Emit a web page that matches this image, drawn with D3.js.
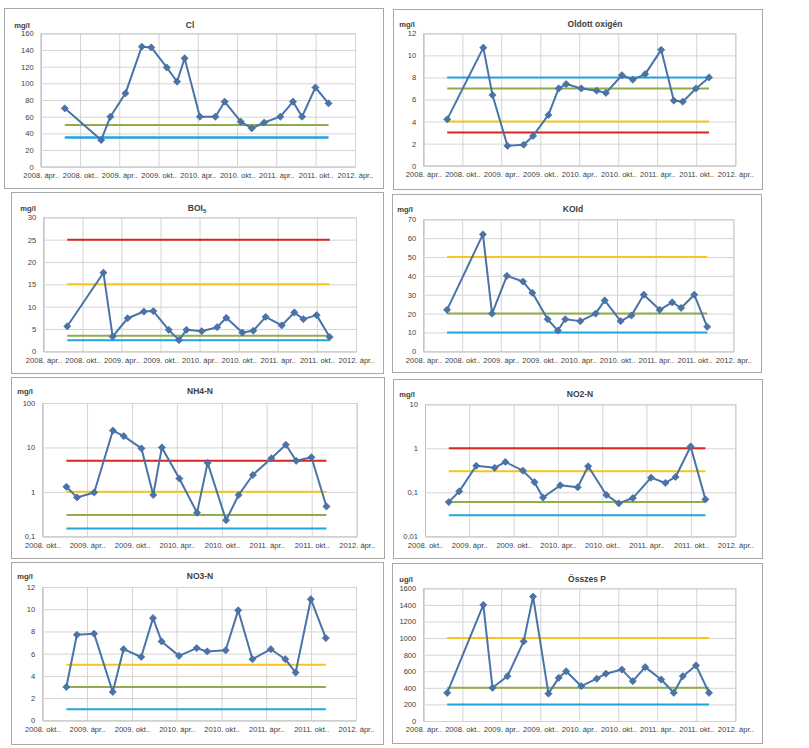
<!DOCTYPE html>
<html>
<head>
<meta charset="utf-8">
<script src="https://cdn.jsdelivr.net/npm/d3@7"></script>
<style>
  html, body { margin: 0; padding: 0; background: #fff; }
  svg text { font-family: "Liberation Sans", Arial, sans-serif; fill: #404040; }
</style>
</head>
<body>
<svg id="chart" width="809" height="748"></svg>
<script>
// ---------------- DATA ----------------
// sampling dates (common to all parameters)
const sampleDates = [
  "2008-07-22", "2009-01-07", "2009-02-19", "2009-04-30", "2009-07-15",
  "2009-08-28", "2009-11-08", "2009-12-26", "2010-01-30", "2010-04-11",
  "2010-06-22", "2010-08-04", "2010-10-18", "2010-12-08", "2011-02-04",
  "2011-04-20", "2011-06-18", "2011-07-30", "2011-09-30", "2011-11-30"
];

const clValues   = [70, 32, 60, 88, 144, 143, 119, 102, 130, 60, 60, 78, 54, 46, 53, 60, 78, 60, 95, 76];
const oxValues   = [4.2, 10.7, 6.4, 1.8, 1.9, 2.7, 4.6, 7.0, 7.4, 7.0, 6.8, 6.6, 8.2, 7.8, 8.3, 10.5, 5.9, 5.8, 7.0, 8.0];
const boiValues  = [5.6, 17.6, 3.3, 7.4, 8.9, 9.0, 4.8, 2.5, 4.8, 4.5, 5.4, 7.5, 4.2, 4.6, 7.7, 5.8, 8.7, 7.2, 8.1, 3.2];
const koidValues = [22, 62, 20, 40, 37, 31, 17, 11, 17, 16, 20, 27, 16, 19, 30, 22, 26, 23, 30, 13];
const nh4Values  = [null, 1.3, 0.75, 0.97, 24, 18, 9.5, 0.85, 10, 2.0, 0.34, 4.5, 0.23, 0.85, 2.4, 5.7, 11.5, 5.0, 6.0, 0.47];
const no2Values  = [null, 0.06, 0.105, 0.4, 0.36, 0.49, 0.31, 0.17, 0.076, 0.144, 0.13, 0.39, 0.087, 0.056, 0.074, 0.215, 0.163, 0.223, 1.1, 0.069];
const no3Values  = [null, 3.0, 7.7, 7.8, 2.55, 6.4, 5.7, 9.2, 7.1, 5.8, 6.5, 6.2, 6.3, 9.9, 5.5, 6.4, 5.5, 4.3, 10.9, 7.4];
const pValues    = [340, 1400, 400, 540, 960, 1500, 330, 520, 600, 420, 510, 570, 620, 480, 650, 500, 340, 540, 670, 340];

// class boundary limits (name of boundary -> value)
const clLimits   = { "II/III": 50, "I/II": 35 };
const oxLimits   = { "I/II": 8, "II/III": 7, "III/IV": 4, "IV/V": 3 };
const boiLimits  = { "IV/V": 25, "III/IV": 15, "II/III": 3.5, "I/II": 2.5 };
const koidLimits = { "III/IV": 50, "II/III": 20, "I/II": 10 };
const nh4Limits  = { "IV/V": 5, "III/IV": 1, "II/III": 0.3, "I/II": 0.15 };
const no2Limits  = { "IV/V": 1, "III/IV": 0.3, "II/III": 0.06, "I/II": 0.03 };
const no3Limits  = { "III/IV": 5, "II/III": 3, "I/II": 1 };
const pLimits    = { "III/IV": 1000, "II/III": 400, "I/II": 200 };

// axis ticks
const xTicksApr = ["2008-04-01","2008-10-01","2009-04-01","2009-10-01","2010-04-01","2010-10-01","2011-04-01","2011-10-01","2012-04-01"];
const xTicksOkt = ["2008-10-01","2009-04-01","2009-10-01","2010-04-01","2010-10-01","2011-04-01","2011-10-01","2012-04-01"];
const monthNames = { 4: "ápr..", 10: "okt.." };

const clTicks   = [0, 20, 40, 60, 80, 100, 120, 140, 160];
const oxTicks   = [0, 2, 4, 6, 8, 10, 12];
const boiTicks  = [0, 5, 10, 15, 20, 25, 30];
const koidTicks = [0, 10, 20, 30, 40, 50, 60, 70];
const nh4Ticks  = [0.1, 1, 10, 100];
const no2Ticks  = [0.01, 0.1, 1, 10];
const no3Ticks  = [0, 2, 4, 6, 8, 10, 12];
const pTicks    = [0, 200, 400, 600, 800, 1000, 1200, 1400, 1600];

const titles = ["Cl", "Oldott oxigén", "BOI", "KOId", "NH4-N", "NO2-N", "NO3-N", "Összes P"];
const units  = ["mg/l", "mg/l", "mg/l", "mg/l", "mg/l", "mg/l", "mg/l", "ug/l"];

// ---------------- STYLE / LAYOUT ----------------
const limitColors = { "IV/V": "#D9251D", "III/IV": "#F7C51E", "II/III": "#8FAE4B", "I/II": "#22A4DD" };
const lineColor = "#4A73A8";
const markerColor = "#4A73A8";

const panels = [
  { title: titles[0], unit: units[0], values: clValues,   limits: clLimits,   ticks: clTicks,   xt: xTicksApr, log: false,
    box: [4, 8, 379, 180],   plot: [40.7, 355, 33.3, 166.7], tx: 190, ty: 25, ux: 22 },
  { title: titles[1], unit: units[1], values: oxValues,   limits: oxLimits,   ticks: oxTicks,   xt: xTicksApr, log: false,
    box: [393, 9, 369, 180], plot: [423.3, 735.3, 33.3, 165.7], tx: 595, ty: 24, ux: 407 },
  { title: titles[2], unit: units[2], values: boiValues,  limits: boiLimits,  ticks: boiTicks,  xt: xTicksApr, log: false, sub: "5",
    box: [11, 192, 372, 181], plot: [43.3, 356, 217.3, 351.3], tx: 197, ty: 208, ux: 28 },
  { title: titles[3], unit: units[3], values: koidValues, limits: koidLimits, ticks: koidTicks, xt: xTicksApr, log: false,
    box: [392, 194, 369, 178], plot: [423.3, 733.3, 219.3, 351.3], tx: 573, ty: 209, ux: 405 },
  { title: titles[4], unit: units[4], values: nh4Values,  limits: nh4Limits,  ticks: nh4Ticks,  xt: xTicksOkt, log: true,
    box: [11, 377, 373, 181], plot: [42.3, 356.7, 403, 536.3], tx: 200, ty: 391, ux: 25 },
  { title: titles[5], unit: units[5], values: no2Values,  limits: no2Limits,  ticks: no2Ticks,  xt: xTicksOkt, log: true,
    box: [393, 379, 369, 179], plot: [425, 735.3, 404.3, 536.3], tx: 580, ty: 394, ux: 407 },
  { title: titles[6], unit: units[6], values: no3Values,  limits: no3Limits,  ticks: no3Ticks,  xt: xTicksOkt, log: false,
    box: [11, 562, 372, 182], plot: [42.3, 356, 587, 720.3], tx: 200, ty: 576, ux: 25 },
  { title: titles[7], unit: units[7], values: pValues,    limits: pLimits,    ticks: pTicks,    xt: xTicksApr, log: false,
    box: [392, 563, 370, 180], plot: [423.3, 735.3, 588.3, 721], tx: 587, ty: 579, ux: 406 }
];

const parse = d3.timeParse("%Y-%m-%d");
const fmtNum = v => String(v).replace(".", ",");
const xLabel = s => { const d = parse(s); return d.getFullYear() + ". " + monthNames[d.getMonth() + 1]; };

// square diamond marker (equal width and height)
const squareDiamond = {
  draw(ctx, size) {
    const r = Math.sqrt(size / 2);
    ctx.moveTo(0, -r); ctx.lineTo(r, 0); ctx.lineTo(0, r); ctx.lineTo(-r, 0); ctx.closePath();
  }
};

const svg = d3.select("#chart");

panels.forEach(p => {
  const g = svg.append("g");
  const [bx, by, bw, bh] = p.box;
  const [x0, x1, y0, y1] = p.plot;

  g.append("rect").attr("x", bx + 0.5).attr("y", by + 0.5).attr("width", bw).attr("height", bh)
    .attr("fill", "#fff").attr("stroke", "#A8A8A8").attr("stroke-width", 1);

  const xDomain = [parse(p.xt[0]), parse(p.xt[p.xt.length - 1])];
  const x = d3.scaleTime().domain(xDomain).range([x0, x1]);
  const yDomain = [p.ticks[0], p.ticks[p.ticks.length - 1]];
  const y = (p.log ? d3.scaleLog() : d3.scaleLinear()).domain(yDomain).range([y1, y0]);

  // grid + axes
  const xAxis = d3.axisBottom(x).tickValues(p.xt.map(parse)).tickSize(-(y1 - y0)).tickPadding(6)
    .tickFormat((d, i) => xLabel(p.xt[i]));
  const gx = g.append("g").attr("transform", `translate(0,${y1})`).call(xAxis);
  gx.select(".domain").attr("stroke", "#BFBFBF");
  gx.selectAll(".tick line").attr("stroke", "#D4D4D4");
  gx.selectAll(".tick text").attr("font-size", "7.6px").attr("fill", "#404040")
    .attr("font-family", "Liberation Sans, Arial, sans-serif");

  const yAxis = d3.axisLeft(y).tickValues(p.ticks).tickSize(-(x1 - x0)).tickPadding(7)
    .tickFormat(d => fmtNum(d));
  const gy = g.append("g").attr("transform", `translate(${x0},0)`).call(yAxis);
  gy.select(".domain").attr("stroke", "#BFBFBF");
  gy.selectAll(".tick line").attr("stroke", "#D4D4D4");
  gy.selectAll(".tick text").attr("font-size", "7.6px").attr("fill", "#404040")
    .attr("font-family", "Liberation Sans, Arial, sans-serif");

  const pts = p.values.map((v, i) => ({ d: parse(sampleDates[i]), v })).filter(o => o.v !== null);
  const first = pts[0].d, last = pts[pts.length - 1].d;

  // limit lines
  Object.entries(p.limits).forEach(([k, v]) => {
    g.append("line")
      .attr("x1", x(first)).attr("x2", x(last))
      .attr("y1", y(v)).attr("y2", y(v))
      .attr("stroke", limitColors[k]).attr("stroke-width", p.title === "Cl" && k === "I/II" ? 2.6 : 2);
  });

  // data line + markers
  g.append("path").datum(pts)
    .attr("d", d3.line().x(o => x(o.d)).y(o => y(o.v)))
    .attr("fill", "none").attr("stroke", lineColor).attr("stroke-width", 2).attr("stroke-linejoin", "round");

  g.selectAll("path.mk").data(pts).join("path").attr("class", "mk")
    .attr("transform", o => `translate(${x(o.d)},${y(o.v)})`)
    .attr("d", d3.symbol().type(squareDiamond).size(26))
    .attr("fill", markerColor).attr("stroke", "#3D6596").attr("stroke-width", 0.6);

  // title
  const t = g.append("text").attr("x", p.tx).attr("y", p.ty + 3)
    .attr("text-anchor", "middle").attr("font-size", "8.5px").attr("font-weight", "bold").attr("fill", "#262626")
    .text(p.title);
  if (p.sub) t.append("tspan").attr("font-size", "6px").attr("dy", "2").text(p.sub);

  // unit
  g.append("text").attr("x", p.ux).attr("y", p.ty + 3)
    .attr("text-anchor", "middle").attr("font-size", "7.6px").attr("font-weight", "bold").attr("fill", "#262626")
    .text(p.unit);
});
</script>
</body>
</html>
